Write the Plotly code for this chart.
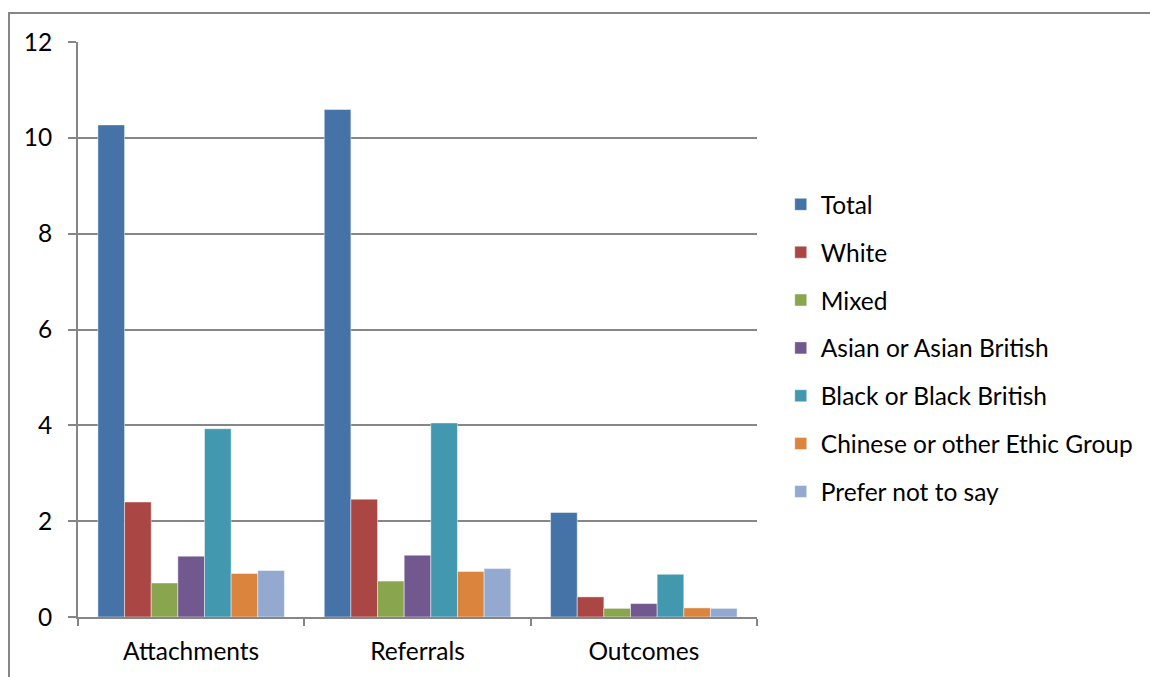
import plotly.graph_objects as go

categories = ["Attachments", "Referrals", "Outcomes"]
series_names = ["Total", "White", "Mixed", "Asian or Asian British",
                "Black or Black British", "Chinese or other Ethic Group", "Prefer not to say"]
total = [10.27, 10.59, 2.18]
white = [2.40, 2.46, 0.42]
mixed = [0.71, 0.75, 0.18]
asian = [1.27, 1.29, 0.28]
black = [3.93, 4.05, 0.89]
chinese = [0.91, 0.95, 0.19]
prefer = [0.97, 1.01, 0.18]
y_ticks = [0, 2, 4, 6, 8, 10, 12]

values = [total, white, mixed, asian, black, chinese, prefer]
colors = ["#4572A7", "#AA4643", "#89A54E", "#71588F", "#4198AF", "#DB843D", "#93A9CF"]

FONT = "Lato"
fig = go.Figure()
for i, (name, vals, col) in enumerate(zip(series_names, values, colors)):
    fig.add_trace(go.Bar(
        name=name, x=categories, y=vals,
        marker=dict(color=col, line=dict(color="rgba(255,255,255,0.45)", width=1)),
        legendgroup=f"g{i}",
    ))

fig.update_layout(
    width=1150, height=677,
    margin=dict(l=78, r=393, t=42, b=60),
    paper_bgcolor="white", plot_bgcolor="white",
    barmode="group", bargap=0.176, bargroupgap=0,
    font=dict(family=FONT, size=24, color="#000000"),
    showlegend=True,
    legend=dict(
        x=1.035, xanchor="left", y=0.468, yanchor="middle",
        font=dict(family=FONT, size=24.5, color="#000000"),
        tracegroupgap=13, itemwidth=30,
        bgcolor="rgba(0,0,0,0)",
    ),
    xaxis=dict(
        showline=True, linecolor="#868686", linewidth=2,
        ticks="outside", tickson="boundaries", ticklen=7, tickcolor="#868686", tickwidth=2,
        showgrid=False, tickfont=dict(family=FONT, size=24.5),
        ticklabelstandoff=12,
    ),
    yaxis=dict(
        range=[0, 12], tickvals=y_ticks,
        showline=True, linecolor="#868686", linewidth=2,
        ticks="outside", ticklen=8, tickcolor="#868686", tickwidth=2,
        showgrid=True, gridcolor="#868686", gridwidth=2,
        zeroline=False, tickfont=dict(family=FONT, size=24.5),
        ticklabelstandoff=11,
    ),
    shapes=[dict(
        type="rect", xref="paper", yref="paper",
        x0=(9 - 78) / 679, x1=1.8, y0=-0.3, y1=1 + (42 - 13) / 575,
        line=dict(color="#868686", width=2), fillcolor="rgba(0,0,0,0)", layer="below",
    )],
)

fig.write_html("out.html")
